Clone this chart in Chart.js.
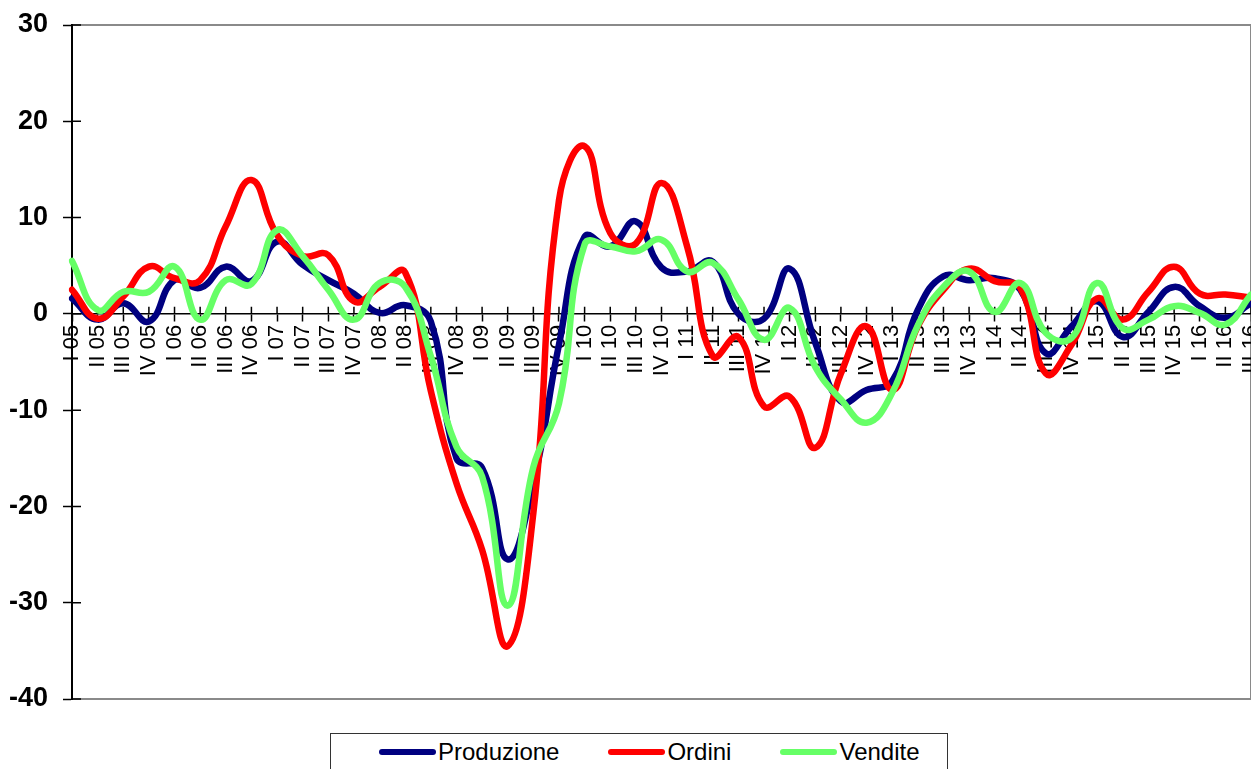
<!DOCTYPE html>
<html>
<head>
<meta charset="utf-8">
<script src="https://cdn.jsdelivr.net/npm/chart.js@4"></script>
<style>
  html, body { margin: 0; padding: 0; background: #fff; overflow: hidden; }
  #wrap { position: relative; width: 1251px; height: 769px; }
  #legend {
    position: absolute; left: 330px; top: 733px; width: 618px; height: 60px;
    border: 1px solid #333; box-sizing: border-box; background: #fff;
    display: flex; align-items: flex-start; gap: 49px; padding: 6px 0 0 48px;
    font: 24px "Liberation Sans", Arial, sans-serif; color: #000;
  }
  .item { display: flex; align-items: center; height: 24px; white-space: nowrap; }
  .swatch { width: 57px; height: 6px; border-radius: 3px; margin-right: 2px; }
</style>
</head>
<body>
<div id="wrap">
  <canvas id="myChart" width="1251" height="769"></canvas>
  <div id="legend"></div>
</div>
<script>
const FONT = '"Liberation Sans", Arial, sans-serif';

const quarters = [
  'I 05', 'II 05', 'III 05', 'IV 05',
  'I 06', 'II 06', 'III 06', 'IV 06',
  'I 07', 'II 07', 'III 07', 'IV 07',
  'I 08', 'II 08', 'III 08', 'IV 08',
  'I 09', 'II 09', 'III 09', 'IV 09',
  'I 10', 'II 10', 'III 10', 'IV 10',
  'I 11', 'II 11', 'III 11', 'IV 11',
  'I 12', 'II 12', 'III 12', 'IV 12',
  'I 13', 'II 13', 'III 13', 'IV 13',
  'I 14', 'II 14', 'III 14', 'IV 14',
  'I 15', 'II 15', 'III 15', 'IV 15',
  'I 16', 'II 16', 'III 16'
];

const produzione = [
  1.6, -0.6, 1.1, -0.8, 3.5, 2.7, 4.9, 3.4,
  7.5, 5.1, 3.5, 2.1, 0.1, 0.9, -0.8, -15.0,
  -16.0, -25.5, -17.6, -3.2, 8.0, 7.0, 9.6, 4.8,
  4.4, 5.4, 0.0, -0.5, 4.7, -3.0, -9.1, -7.9,
  -7.0, 0.4, 3.9, 3.5, 3.7, 2.5, -4.1, -1.3,
  1.3, -2.4, 0.2, 2.8, 0.8, -0.4, 1.1
];

const ordini = [
  2.5, -0.5, 1.8, 4.9, 3.7, 3.5, 9.1, 13.9,
  8.2, 6.0, 6.1, 1.3, 2.8, 4.3, -8.0, -17.6,
  -24.5, -34.5, -20.7, 11.8, 17.4, 8.4, 7.3, 13.6,
  7.0, -4.4, -2.4, -9.6, -8.6, -13.9, -6.2, -1.3,
  -7.9, -1.3, 2.5, 4.7, 3.4, 2.7, -6.2, -3.2,
  1.6, -0.6, 2.3, 4.9, 2.1, 2.0, 1.7
];

const vendite = [
  5.5, 0.4, 2.3, 2.3, 4.9, -0.6, 3.5, 3.1,
  8.7, 6.0, 2.5, -0.6, 3.2, 2.8, -4.4, -13.8,
  -16.9, -30.3, -15.9, -9.3, 7.2, 7.0, 6.5, 7.7,
  4.4, 5.3, 1.5, -2.7, 0.6, -5.5, -8.9, -11.3,
  -8.2, -1.2, 2.8, 4.4, 0.2, 3.2, -2.0, -2.5,
  3.2, -1.5, -0.6, 0.8, 0.1, -1.1, 2.0
];

// gray frame around the plot area (top, right, bottom)
const plotFrame = {
  id: 'plotFrame',
  beforeDraw(chart) {
    const { ctx, chartArea: a } = chart;
    ctx.save();
    ctx.strokeStyle = '#8a8a8a';
    ctx.lineWidth = 2;
    ctx.beginPath();
    ctx.moveTo(a.left, a.top);
    ctx.lineTo(a.right, a.top);
    ctx.lineTo(a.right, a.bottom);
    ctx.lineTo(a.left, a.bottom);
    ctx.stroke();
    ctx.restore();
  }
};

// tick marks crossing both axes
const crossTicks = {
  id: 'crossTicks',
  beforeDatasetsDraw(chart) {
    const { ctx, scales: { x, y } } = chart;
    const axisY = y.getPixelForValue(0);
    ctx.save();
    ctx.strokeStyle = '#000';
    ctx.lineWidth = 1.5;
    ctx.beginPath();
    y.ticks.forEach((t, i) => {
      const py = y.getPixelForTick(i);
      ctx.moveTo(x.left, py);
      ctx.lineTo(x.left + 9, py);
    });
    x.ticks.forEach((t, i) => {
      const px = x.getPixelForTick(i);
      ctx.moveTo(px, axisY);
      ctx.lineTo(px, axisY - 7);
    });
    ctx.stroke();
    ctx.restore();
  }
};

function createChart() {
  const data = {
    labels: quarters,
    datasets: [
      { label: 'Produzione', data: produzione, borderColor: '#000080', backgroundColor: '#000080', order: 3 },
      { label: 'Ordini', data: ordini, borderColor: '#ff0000', backgroundColor: '#ff0000', order: 2 },
      { label: 'Vendite', data: vendite, borderColor: '#66ff66', backgroundColor: '#66ff66', order: 1 },
    ],
  };

  const config = {
    type: 'line',
    data: data,
    options: {
      responsive: false,
      animation: false,
      layout: { padding: { top: 25, right: 0, bottom: 70, left: 0 } },
      elements: {
        point: { radius: 0 },
        line: { tension: 0.45, borderWidth: 6.5, borderCapStyle: 'round', borderJoinStyle: 'round' },
      },
      plugins: {
        legend: { display: false },
        tooltip: { enabled: false },
      },
      scales: {
        x: {
          position: { y: 0 },
          offset: false,
          grid: { drawOnChartArea: false, tickLength: 7, tickWidth: 1.5, tickColor: '#000' },
          border: { color: '#000', width: 1.5 },
          ticks: {
            autoSkip: false, maxRotation: 90, minRotation: 90, padding: 4,
            color: '#000', font: { family: FONT, size: 22 },
          },
          afterFit: (scale) => {
            scale.paddingLeft = 0; scale.paddingRight = 0;
            scale.paddingTop = 0; scale.paddingBottom = 0;
          },
        },
        y: {
          min: -40,
          max: 30,
          ticks: { stepSize: 10, padding: 15, color: '#000', font: { family: FONT, size: 27, weight: 'bold' } },
          grid: { drawOnChartArea: false, tickLength: 9, tickWidth: 1.5, tickColor: '#000' },
          border: { color: '#000', width: 2 },
          afterFit: (scale) => {
            scale.width = 72;
            scale.paddingTop = 0; scale.paddingBottom = 0;
          },
        },
      },
    },
    plugins: [plotFrame, crossTicks],
  };

  const ctx = document.getElementById('myChart').getContext('2d');
  const chart = new Chart(ctx, config);

  // legend box under the plot
  const legendEl = document.getElementById('legend');
  chart.data.datasets.forEach((ds) => {
    const item = document.createElement('div');
    item.className = 'item';
    const sw = document.createElement('span');
    sw.className = 'swatch';
    sw.style.background = ds.borderColor;
    item.appendChild(sw);
    item.appendChild(document.createTextNode(ds.label));
    legendEl.appendChild(item);
  });
}

createChart();
</script>
</body>
</html>
